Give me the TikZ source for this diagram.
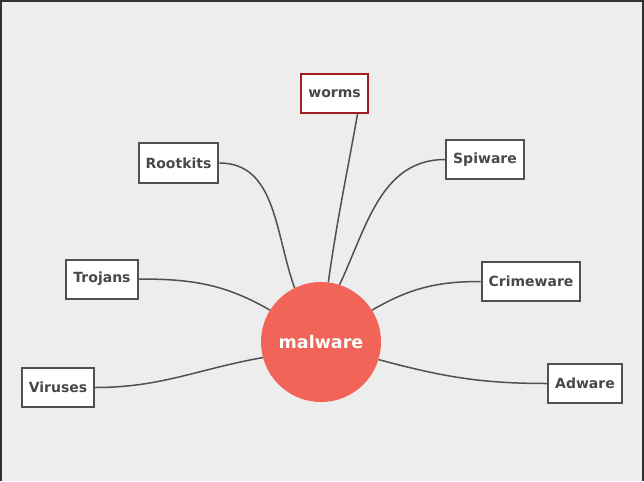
\documentclass[tikz,border=0pt]{standalone}
\usepackage{fontspec}
\setmainfont{DejaVu Sans}
\definecolor{bgray}{HTML}{EDEDED}
\definecolor{core}{HTML}{F26358}
\definecolor{edge}{HTML}{505050}
\definecolor{wred}{HTML}{A31F1F}
\tikzset{
  topic/.style={draw=edge,line width=2pt,fill=white,minimum height=39pt,
    inner xsep=7pt,font=\fontsize{14}{16}\selectfont\bfseries,text=edge!90!black},
  branch/.style={draw=edge,line width=1.5pt},
}
\begin{document}
\begin{tikzpicture}[x=1pt,y=-1pt]
\fill[bgray] (0,0) rectangle (644,481);
\useasboundingbox (0,0) rectangle (644,481);
\draw[edge!60!black,line width=2pt] (1,481)--(1,1)--(643,1)--(643,481);

% centre
\node[circle,fill=core,minimum size=120pt,inner sep=0pt,text=white,
  font=\fontsize{17.5}{20}\selectfont\bfseries] (mal) at (321,342) {malware};

% topics
\node[topic,draw=wred] (worms) at (334.5,93.5) {worms};
\node[topic] (root)  at (178.5,163)   {Rootkits};
\node[topic] (spi)   at (485,159.5)   {Spiware};
\node[topic] (troj)  at (102,279)     {Trojans};
\node[topic] (crime) at (531,281.5)   {Crimeware};
\node[topic] (vir)   at (58,387.5)    {Viruses};
\node[topic] (adw)   at (585,383.5)   {Adware};

% branches
\draw[branch] (mal.83)  to[out=82,in=-100] ([xshift=23pt]worms.south);
\draw[branch] (mal.116) to[out=110,in=0]  (root.east);
\draw[branch] (mal.72)  to[out=65,in=180] (spi.west);
\draw[branch] (mal.148) to[out=150,in=0]  (troj.east);
\draw[branch] (mal.32)  to[out=30,in=180] (crime.west);
\draw[branch] (mal.195) to[out=190,in=0]  (vir.east);
\draw[branch] (mal.343) to[out=-15,in=180] (adw.west);
\end{tikzpicture}
\end{document}
